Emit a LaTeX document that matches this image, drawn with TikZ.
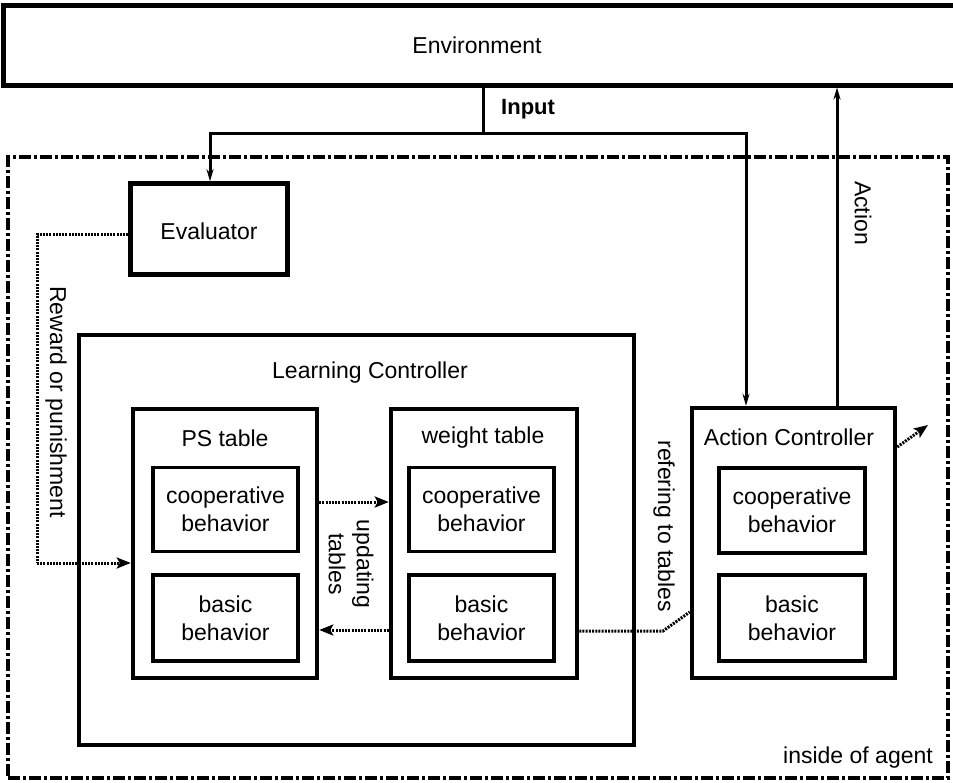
\documentclass[tikz,border=0pt]{standalone}
\usepackage{fontspec}
\setmainfont{Liberation Sans}
\usetikzlibrary{arrows.meta,calc}
\begin{document}
\begin{tikzpicture}[x=1pt,y=-1pt,
  every node/.style={font=\fontsize{23}{28}\selectfont},
  bigbox/.style={draw,line width=4.5pt,minimum width=#1},
  inbox/.style={draw,line width=3.5pt,align=center},
  agentbox/.style={draw,line width=4pt,dash pattern=on 12pt off 3pt on 3pt off 3pt},
  plain/.style={inner sep=0pt},
  inline/.style={line width=3pt,-{Stealth[length=12pt,width=7pt]}},
  dotline/.style={line width=3pt,dash pattern=on 2pt off 1.2pt},
  dotarrow/.style={dotline,-{Stealth[length=14pt,width=11pt,inset=3pt]}}
]
\useasboundingbox (0,0) rectangle (953,782);
% environment
\node[draw,line width=5pt,minimum width=955,minimum height=80] (env) at (481,45) {};
\node[plain] (envt) at (477,45) {Environment};
% agent
\node[agentbox,minimum width=940,minimum height=621] (agent) at (478,467.5) {};
\node[plain,anchor=south east] (agentt) at (933,768) {inside of agent};
% evaluator
\node[bigbox=157,minimum height=91] (eval) at (209,229) {};
\node[plain] (evalt) at (209,231) {Evaluator};
% learning controller
\node[bigbox=555,minimum height=410] (lc) at (356.5,540) {};
\node[plain] (lct) at (370,373) {Learning Controller};
% PS table
\node[bigbox=184,minimum height=269] (ps) at (225,543.5) {};
\node[plain] (pst) at (225,438) {PS table};
\node[inbox,minimum width=145,minimum height=84] (pscoop) at (225.5,509.5) {cooperative\\behavior};
\node[inbox,minimum width=145,minimum height=86] (psbasic) at (225.5,618) {basic\\behavior};
% weight table
\node[bigbox=186,minimum height=269] (wt) at (484,543.5) {};
\node[plain] (wtt) at (483,438) {weight table};
\node[inbox,minimum width=145,minimum height=84] (wtcoop) at (481.5,509.5) {cooperative\\behavior};
\node[inbox,minimum width=145,minimum height=86] (wtbasic) at (481.5,618) {basic\\behavior};
% action controller
\node[bigbox=203,minimum height=270] (ac) at (793.5,543) {};
\node[plain] (act) at (789,437) {Action Controller};
\node[inbox,minimum width=146,minimum height=85] (accoop) at (792,510.5) {cooperative\\behavior};
\node[inbox,minimum width=146,minimum height=86] (acbasic) at (792,618) {basic\\behavior};
% input
\coordinate (inj) at (483,133);
\coordinate (inL) at (210,133);
\coordinate (inR) at (746,133);
\draw[line width=3pt] (env.south -| inj) -- (inj);
\draw[inline] (inj) -- (inL) -- (inL |- eval.north);
\draw[inline] (inj) -- (inR) -- (inR |- ac.north);
\node[plain,font=\fontsize{22}{26}\selectfont\bfseries,anchor=west] (inpt) at (501,109) {Input};
% action
\coordinate (actx) at (837,300);
\draw[inline] (actx |- ac.north) -- (actx |- env.south);
\node[plain,rotate=-90] (actiont) at (863,213) {Action};
% reward
\coordinate (rw1) at (37,234);
\coordinate (rw2) at (37,563);
\draw[dotline] (eval.west |- rw1) -- (rw1) -- (rw2);
\draw[dotarrow] (rw2) -- (ps.west |- rw2);
\node[plain,rotate=-90] (rewt) at (56,402) {Reward or punishment};
% updating
\coordinate (up1) at (0,502);
\coordinate (up2) at (0,630);
\draw[dotarrow] (ps.east |- up1) -- (wt.west |- up1);
\draw[dotarrow] (wt.west |- up2) -- (ps.east |- up2);
\node[plain,rotate=-90,align=center] (updt) at (351,564) {updating\\tables};
% refering
\coordinate (rf1) at (663,631);
\coordinate (rf2) at (0,612);
\draw[dotline] (wt.east |- rf1) -- (rf1) -- (ac.west |- rf2);
\node[plain,rotate=-90] (reft) at (664,526) {refering to tables};
% out arrow
\coordinate (outA) at (0,447);
\coordinate (outB) at (928,425);
\draw[dotarrow] (ac.east |- outA) -- (outB);
\end{tikzpicture}
\end{document}
